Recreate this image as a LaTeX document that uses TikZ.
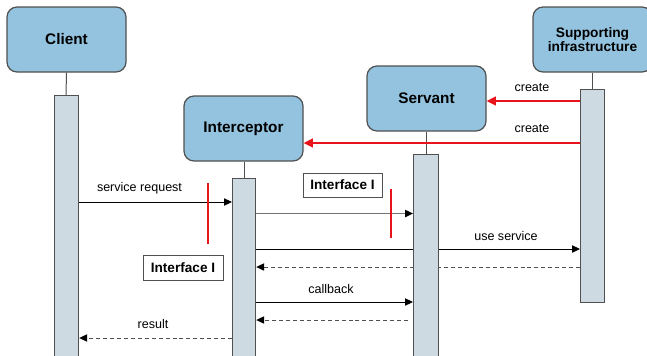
\documentclass[tikz,border=0pt]{standalone}
\usepackage{fontspec}
\setmainfont{Liberation Sans}
\usetikzlibrary{arrows.meta}
\definecolor{boxblue}{HTML}{93C3DF}
\definecolor{barfill}{HTML}{CDDAE2}
\definecolor{edgegray}{HTML}{505050}
\definecolor{redline}{HTML}{E8141B}
\tikzset{
  actor/.style={draw=edgegray, line width=0.9pt, fill=boxblue, rounded corners=7.5pt,
    minimum width=119*0.75pt, minimum height=65*0.75pt, inner sep=0pt,
    align=center, font=\bfseries\fontsize{11.5}{13}\selectfont},
  bar/.style={draw=edgegray, line width=0.9pt, fill=barfill, inner sep=0pt},
  life/.style={draw=edgegray, line width=0.75pt},
  msg/.style={draw=black, line width=0.75pt, -{Triangle[length=6pt,width=5.5pt]}},
  msggray/.style={draw=gray!90!black, line width=1pt,
    -{Triangle[length=6pt,width=5.5pt,color=black]}},
  reply/.style={draw=edgegray, line width=0.75pt, dash pattern=on 3pt off 2.2pt,
    -{Triangle[length=6pt,width=5.5pt,color=black]}},
  create/.style={draw=redline, line width=1.5pt, -{Triangle[length=7pt,width=6.5pt]}},
  cutmark/.style={draw=redline, line width=2.2pt},
  lbl/.style={font=\fontsize{9.4}{11}\selectfont, inner sep=0pt},
  iface/.style={draw=edgegray, line width=0.75pt, fill=white, inner sep=0pt,
    font=\bfseries\fontsize{10.2}{12}\selectfont}
}
\begin{document}
\begin{tikzpicture}[x=0.75pt, y=-0.75pt]
\useasboundingbox (0,0) rectangle (647,355);
\clip (0,0) rectangle (647,355);

% participants
\node[actor] (client) at (66.5,39.5) {Client};
\node[actor] (interceptor) at (243.5,128.5) {Interceptor};
\node[actor] (servant) at (426.5,98.5) {Servant};
\node[actor, font=\bfseries\fontsize{10.3}{12}\selectfont] (infra) at (592.5,39.5) {Supporting\\[-1pt]infrastructure};

% lifeline stubs
\coordinate (clientlife) at (66,95);
\coordinate (iclife) at (244,178);
\coordinate (svlife) at (426,154);
\coordinate (inlife) at (592,89);
\draw[life] (client.south) -- (clientlife);
\draw[life] (interceptor.south -| iclife) -- (iclife);
\draw[life] (servant.south -| svlife) -- (svlife);
\draw[life] (infra.south -| inlife) -- (inlife);

% activation bars
\path (54,95) coordinate (cbTL);
\path (232,178) coordinate (ibTL);
\path (413,154) coordinate (sbTL);
\path (580,89) coordinate (fbTL);

\node[bar, minimum width=24*0.75pt, minimum height=270*0.75pt, anchor=north west] (clientbar) at (cbTL) {};
\node[bar, minimum width=23*0.75pt, minimum height=187*0.75pt, anchor=north west] (icbar) at (ibTL) {};
\node[bar, minimum width=24*0.75pt, minimum height=213*0.75pt, anchor=north west] (infrabar) at (fbTL) {};

% creation messages
\draw[create] (infrabar.west |- 0,101) -- (servant.east |- 0,101);
\node[lbl] (create1) at (532,88) {create};
\draw[create] (infrabar.west |- 0,143) -- (interceptor.east |- 0,143);
\node[lbl] (create2) at (532,129) {create};

% service request
\draw[msg] (clientbar.east |- 0,202) -- (icbar.west |- 0,202);
\node[lbl] (sreq) at (139.5,188) {service request};

% interceptor forwards to servant
\draw[msggray] (icbar.east |- 0,213.5) -- (413,213.5);

% use service
\draw[msg] (icbar.east |- 0,249) -- (infrabar.west |- 0,249);
\node[lbl] (usesvc) at (506,236) {use service};
\draw[reply] (infrabar.west |- 0,267) -- (icbar.east |- 0,267);

% servant bar drawn over the passing messages
\node[bar, minimum width=25*0.75pt, minimum height=211*0.75pt, anchor=north west] (servantbar) at (sbTL) {};

% callback
\draw[msg] (icbar.east |- 0,302) -- (servantbar.west |- 0,302);
\node[lbl] (cb) at (331,289) {callback};
\coordinate (cbret) at (408,320);
\draw[reply] (cbret) -- (icbar.east |- cbret);

% result
\draw[reply] (icbar.west |- 0,338) -- (clientbar.east |- 0,338);
\node[lbl] (res) at (153,324) {result};

% interface marks
\draw[cutmark] (208,183) coordinate (m1a) -- (208,244) coordinate (m1b);
\draw[cutmark] (391,189) coordinate (m2a) -- (391,238) coordinate (m2b);
\node[iface, minimum width=80*0.75pt, minimum height=25*0.75pt] (ifleft) at (183,267.5) {Interface I};
\node[iface, minimum width=79*0.75pt, minimum height=24*0.75pt] (iftop) at (342.5,185) {Interface I};
\end{tikzpicture}
\end{document}
